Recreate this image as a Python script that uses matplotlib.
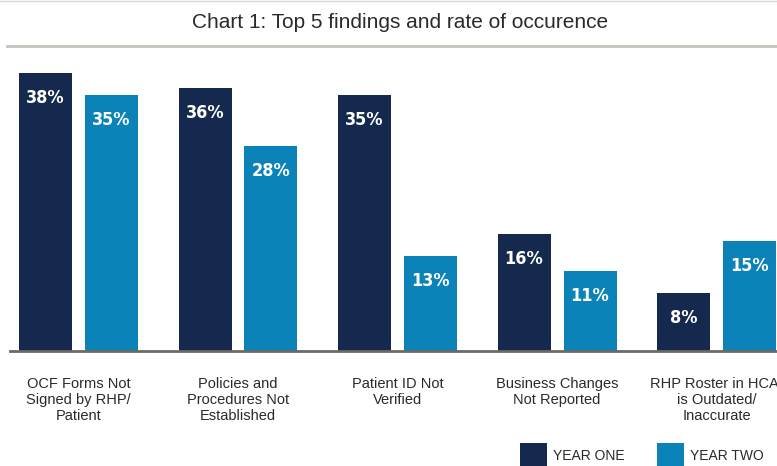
import matplotlib
matplotlib.use('Agg')
import matplotlib.pyplot as plt
from matplotlib.patches import Rectangle
from matplotlib.lines import Line2D
import numpy as np

TITLE = 'Chart 1: Top 5 findings and rate of occurence'
categories = [
    'OCF Forms Not\nSigned by RHP/\nPatient',
    'Policies and\nProcedures Not\nEstablished',
    'Patient ID Not\nVerified',
    'Business Changes\nNot Reported',
    'RHP Roster in HCAI\nis Outdated/\nInaccurate',
]
year_one = [38, 36, 35, 16, 8]
year_two = [35, 28, 13, 11, 15]
series_names = ['YEAR ONE', 'YEAR TWO']

DARK = '#14294d'
LIGHT = '#0b83b9'
TEXT = '#2a2a2a'

plt.rcParams['font.family'] = ['Liberation Sans', 'DejaVu Sans']

W, H = 777, 466
fig = plt.figure(figsize=(W / 100, H / 100), dpi=100)


def fx(px):
    return px / W


def fy(py):
    return 1 - py / H


# axes: baseline at y=351px, left edge 10px, right edge 777px
ax = fig.add_axes([fx(10), fy(351), fx(767), fy(60) - fy(351)])
group_px = 159.5
x = np.arange(len(categories))
bar_w = 53 / group_px
offset = 33 / group_px

ax.set_xlim((10 - 78.5) / group_px, (777 - 78.5) / group_px)
ax.set_ylim(0, (351 - 60) / 7.31)

bars1 = ax.bar(x - offset, year_one, bar_w, color=DARK, zorder=2)
bars2 = ax.bar(x + offset, year_two, bar_w, color=LIGHT, zorder=2)

for bars, values in ((bars1, year_one), (bars2, year_two)):
    for b, v in zip(bars, values):
        ax.annotate('{}%'.format(v), (b.get_x() + b.get_width() / 2, v),
                    xytext=(0, -18), textcoords='offset points',
                    ha='center', va='center', color='white',
                    fontsize=13, fontweight='bold', fontstretch='condensed',
                    family=['DejaVu Sans'])

for s in ['top', 'right', 'left']:
    ax.spines[s].set_visible(False)
ax.spines['bottom'].set_color('#6b6b63')
ax.spines['bottom'].set_linewidth(2)
ax.spines['bottom'].set_zorder(3)
ax.set_yticks([])
ax.set_xticks(x)
ax.set_xticklabels(categories, fontsize=10.5, color=TEXT, linespacing=1.15)
ax.tick_params(axis='x', length=0, pad=19)

# title and rules
fig.text(fx(400), fy(22), TITLE, ha='center', va='center', fontsize=15, color=TEXT)
fig.add_artist(Line2D([fx(7), 1], [fy(46), fy(46)], color='#c3c3bb', linewidth=2))
fig.add_artist(Line2D([0, 1], [fy(0.5), fy(0.5)], color='#d8d8d0', linewidth=1))

# legend
for left, color, name in ((520, DARK, series_names[0]), (657, LIGHT, series_names[1])):
    fig.add_artist(Rectangle((fx(left), fy(468)), fx(27), fy(443) - fy(468),
                             facecolor=color, edgecolor='none'))
    fig.text(fx(left + 33), fy(456), name, ha='left', va='center',
             fontsize=10, color=TEXT)

fig.savefig('out.png', dpi=100)
